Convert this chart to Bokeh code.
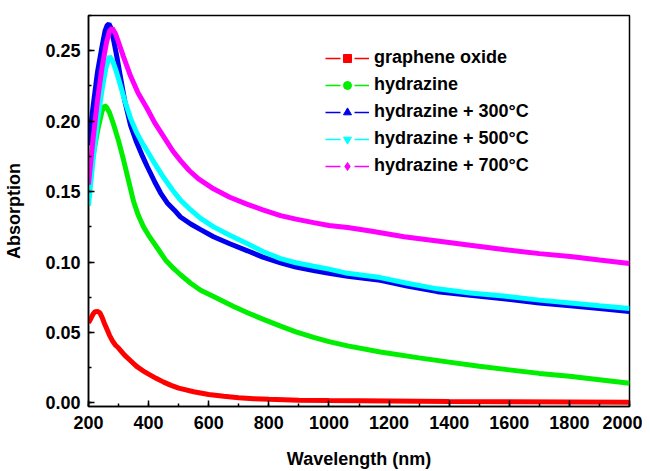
from bokeh.plotting import figure
from bokeh.models import (Range1d, Legend, LegendItem, SingleIntervalTicker,
                          NumeralTickFormatter, ColumnDataSource)
from bokeh.embed import file_html
from bokeh.resources import INLINE

# ---- data ----
go_wl = [200, 208, 215, 222, 230, 238, 245, 252, 260, 270, 280, 290, 300, 320, 340, 360, 380, 400, 425, 450, 475, 500,
         550, 600, 650, 700, 750, 800, 900, 1000, 1200, 1400, 1600, 1800, 2000]
go_abs = [0.057, 0.060, 0.063, 0.0648, 0.065, 0.064, 0.061, 0.057, 0.053, 0.048, 0.044, 0.041, 0.039, 0.034, 0.030,
          0.026, 0.023, 0.0205, 0.0175, 0.0148, 0.0125, 0.0105, 0.008, 0.006, 0.0047, 0.0037, 0.003, 0.0026, 0.002,
          0.0017, 0.0014, 0.0011, 0.0009, 0.0007, 0.0005]

hz_wl = [200, 215, 230, 245, 253, 260, 270, 283, 300, 316, 333, 350, 366, 383, 400, 429, 456, 483, 506, 540, 573, 616,
         683, 729, 780, 839, 890, 949, 1000, 1062, 1171, 1300, 1400, 1500, 1600, 1700, 1800, 1900, 2000]
hz_abs = [0.155, 0.175, 0.193, 0.207, 0.211, 0.210, 0.206, 0.198, 0.186, 0.173, 0.158, 0.143, 0.133, 0.125, 0.119,
          0.110, 0.1015, 0.0955, 0.0910, 0.0850, 0.0800, 0.0755, 0.0685, 0.0640, 0.0595, 0.0545, 0.0505, 0.0465,
          0.0435, 0.0405, 0.0362, 0.032, 0.029, 0.026, 0.0235, 0.021, 0.019, 0.0165, 0.014]

h300_wl = [200, 215, 230, 245, 255, 262, 268, 275, 285, 295, 305, 320, 340, 360, 380, 395, 420, 440, 462, 485, 506,
           540, 573, 616, 670, 729, 780, 839, 890, 949, 1000, 1062, 1171, 1260, 1361, 1470, 1581, 1700, 1803, 1900, 2000]
h300_abs = [0.183, 0.210, 0.235, 0.253, 0.264, 0.268, 0.269, 0.266, 0.256, 0.245, 0.233, 0.215, 0.197, 0.185, 0.175,
            0.168, 0.157, 0.149, 0.142, 0.137, 0.132, 0.127, 0.123, 0.118, 0.113, 0.108, 0.1035, 0.0995, 0.0965,
            0.094, 0.092, 0.090, 0.087, 0.083, 0.079, 0.0765, 0.074, 0.071, 0.069, 0.067, 0.065]

h500_wl = [200, 215, 230, 245, 258, 270, 280, 290, 300, 320, 340, 360, 380, 395, 420, 450, 480, 506, 540, 573, 616,
           670, 729, 780, 839, 890, 949, 1000, 1062, 1171, 1260, 1361, 1470, 1581, 1700, 1803, 1900, 2000]
h500_abs = [0.140, 0.172, 0.200, 0.222, 0.238, 0.246, 0.243, 0.237, 0.230, 0.215, 0.202, 0.192, 0.184, 0.179, 0.170,
            0.160, 0.151, 0.144, 0.137, 0.131, 0.125, 0.119, 0.113, 0.1075, 0.1025, 0.0995, 0.097, 0.095, 0.092,
            0.089, 0.085, 0.081, 0.078, 0.076, 0.073, 0.071, 0.069, 0.067]

h700_wl = [200, 215, 230, 245, 260, 270, 279, 290, 300, 316, 340, 365, 395, 420, 450, 480, 506, 535, 566, 616, 670,
           729, 780, 839, 890, 949, 1000, 1062, 1138, 1250, 1361, 1470, 1581, 1700, 1803, 1900, 2000]
h700_abs = [0.155, 0.187, 0.215, 0.238, 0.256, 0.264, 0.266, 0.262, 0.256, 0.246, 0.232, 0.220, 0.209, 0.199, 0.189,
            0.179, 0.172, 0.165, 0.159, 0.152, 0.146, 0.141, 0.137, 0.133, 0.1305, 0.128, 0.126, 0.1245, 0.122,
            0.118, 0.115, 0.112, 0.109, 0.106, 0.104, 0.1015, 0.099]

labels = ["graphene oxide", "hydrazine", "hydrazine + 300\u00b0C", "hydrazine + 500\u00b0C", "hydrazine + 700\u00b0C"]
colors = ["#ff0000", "#00ee00", "#0000ee", "#00ffff", "#ff00ff"]
markers = ["square", "circle", "triangle", "inverted_triangle", "diamond"]
marker_sizes = [9, 9, 9, 9, 13]

FONT = "Liberation Sans"

p = figure(width=642, height=471, output_backend="svg", toolbar_location=None,
           x_range=Range1d(200, 2000), y_range=Range1d(-0.0025, 0.275),
           min_border_left=88, min_border_right=13, min_border_top=15, min_border_bottom=58)

p.xgrid.visible = False
p.ygrid.visible = False
p.outline_line_color = "black"
p.outline_line_width = 1.5
p.outline_line_alpha = 1

series = [(go_wl, go_abs), (hz_wl, hz_abs), (h300_wl, h300_abs), (h500_wl, h500_abs), (h700_wl, h700_abs)]
items = []
for (xs, ys), c, m, ms, lab in zip(series, colors, markers, marker_sizes, labels):
    src = ColumnDataSource(dict(x=xs, y=ys))
    # thin dashed line hidden under the thick line; gives the "— ■ —" legend sample
    thin = p.line("x", "y", source=src, line_color=c, line_width=1.5, line_dash="15 14")
    p.line("x", "y", source=src, line_color=c, line_width=5)
    # marker renderer kept muted (invisible in the plot); the legend draws its normal glyph
    mk = p.scatter("x", "y", source=src, marker=m, size=ms, fill_color=c, line_color=c,
                   muted_alpha=0)
    mk.muted = True
    items.append(LegendItem(label=lab, renderers=[thin, mk]))

legend = Legend(items=items, location=(237, 230), border_line_color=None,
                background_fill_alpha=0, padding=0, margin=0, spacing=6,
                glyph_width=44, glyph_height=20, label_height=20, label_standoff=5,
                label_text_font=FONT, label_text_font_style="bold",
                label_text_font_size="18px", label_text_color="black")
p.add_layout(legend, "center")

for ax in (p.xaxis[0], p.yaxis[0]):
    ax.axis_line_color = "black"
    ax.axis_line_width = 1.5
    ax.major_tick_line_color = "black"
    ax.minor_tick_line_color = "black"
    ax.major_tick_line_width = 1.5
    ax.minor_tick_line_width = 1.5
    ax.major_tick_in = 6
    ax.major_tick_out = 0
    ax.minor_tick_in = 3
    ax.minor_tick_out = 0
    ax.major_label_text_font = FONT
    ax.major_label_text_font_style = "bold"
    ax.major_label_text_font_size = "18px"
    ax.major_label_text_color = "black"
    ax.axis_label_text_font = FONT
    ax.axis_label_text_font_style = "bold"
    ax.axis_label_text_font_size = "18px"
    ax.axis_label_text_color = "black"

p.xaxis.ticker = SingleIntervalTicker(interval=200, num_minor_ticks=2)
p.yaxis.ticker = SingleIntervalTicker(interval=0.05, num_minor_ticks=2)
p.xaxis.axis_label = "Wavelength (nm)"
p.yaxis.axis_label = "Absorption"
p.yaxis.formatter = NumeralTickFormatter(format="0.00")
p.xaxis.major_label_standoff = 9
p.yaxis.major_label_standoff = 8
p.xaxis.axis_label_standoff = 17
p.yaxis.axis_label_standoff = 18

open("out.html", "w").write(file_html(p, INLINE))
